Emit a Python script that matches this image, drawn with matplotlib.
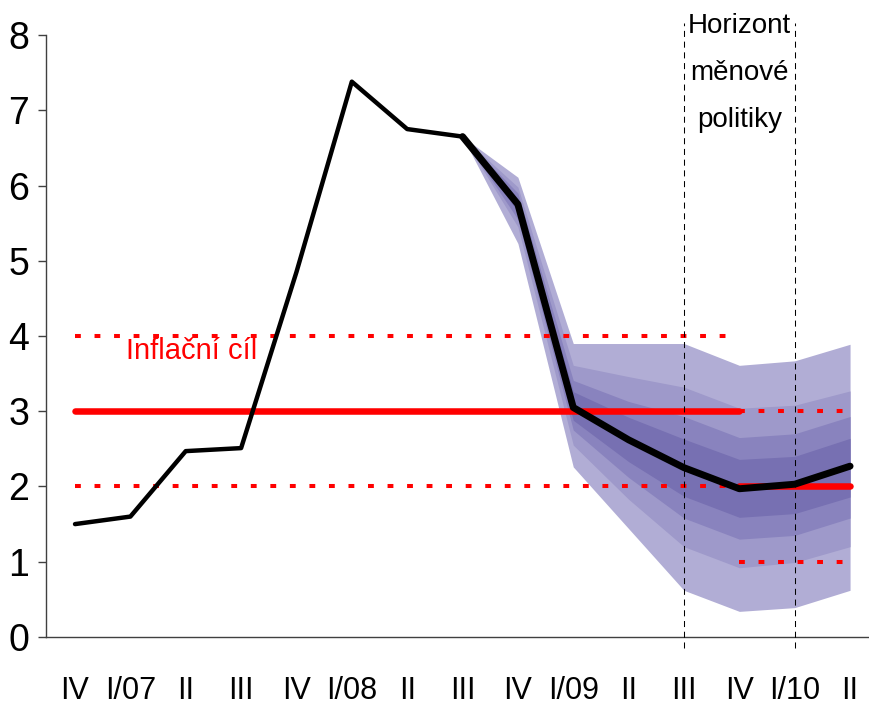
#!/usr/bin/env python3

from matplotlib import pyplot as plt
import numpy as np

# quarters IV/06 .. II/10
quarters = ["IV", "I/07", "II", "III", "IV", "I/08", "II", "III",
            "IV", "I/09", "II", "III", "IV", "I/10", "II"]

# actual inflation, IV/06 .. III/08
actual = [1.50, 1.60, 2.47, 2.51, 4.85, 7.38, 6.75, 6.65]

# forecast, III/08 .. II/10
forecast = [6.65, 5.75, 3.05, 2.62, 2.25, 1.97, 2.03, 2.27]

# fan chart band edges (outer -> inner), III/08 .. II/10
upper = [
    [6.65, 6.11, 3.90, 3.90, 3.90, 3.61, 3.67, 3.89],
    [6.65, 5.98, 3.61, 3.46, 3.32, 3.04, 3.08, 3.27],
    [6.65, 5.90, 3.41, 3.13, 2.93, 2.65, 2.70, 2.93],
    [6.65, 5.83, 3.26, 2.92, 2.63, 2.36, 2.40, 2.64],
]
lower = [
    [6.65, 5.23, 2.26, 1.44, 0.62, 0.34, 0.39, 0.62],
    [6.65, 5.45, 2.55, 1.83, 1.20, 0.92, 0.99, 1.20],
    [6.65, 5.55, 2.75, 2.12, 1.58, 1.30, 1.35, 1.58],
    [6.65, 5.65, 2.88, 2.33, 1.87, 1.59, 1.64, 1.86],
]
band_colors = ["#b1add5", "#9e99ca", "#8983be", "#7770b2"]

# inflation target: 3 % +-1 until IV/09, then 2 % +-1
target_old = 3.0
target_new = 2.0
target_switch = 12

font = "Liberation Sans"


def main():
    fig = plt.figure(figsize=(8.7, 7.09), dpi=100)
    ax = fig.add_axes([0.0525, 0.1016, 0.9475, 0.849])

    x_all = np.arange(len(quarters))
    x_fc = np.arange(len(actual) - 1, len(quarters))

    for i in range(4):
        ax.fill_between(x_fc, lower[i], upper[i], color=band_colors[i],
                        linewidth=0, zorder=1)

    red = "#ff0000"
    dots = (0, (1.45, 3.4))
    x_old = [0, target_switch]
    x_new = [target_switch, len(quarters) - 1]
    ax.plot(x_old, [target_old] * 2, color=red, lw=4.7,
            solid_capstyle="round", zorder=2)
    ax.plot(x_old, [target_old + 1] * 2, color=red, lw=2.9, ls=dots, zorder=2)
    ax.plot(x_old, [target_old - 1] * 2, color=red, lw=2.9, ls=dots, zorder=2)
    ax.plot(x_new, [target_new] * 2, color=red, lw=4.7,
            solid_capstyle="round", zorder=2)
    ax.plot(x_new, [target_new + 1] * 2, color=red, lw=2.9, ls=dots, zorder=2)
    ax.plot(x_new, [target_new - 1] * 2, color=red, lw=2.9, ls=dots, zorder=2)

    ax.plot(x_all[:len(actual)], actual, color="black", lw=3.2,
            solid_capstyle="round", zorder=3)
    ax.plot(x_fc, forecast, color="black", lw=5.0,
            solid_capstyle="round", zorder=3)

    # monetary policy horizon
    for xv in [11, 13]:
        ax.axvline(xv, ymin=-0.019, ymax=1.02, color="black", lw=0.75,
                   ls=(0, (5.8, 4.5)), clip_on=False, zorder=4)

    ax.text(2.11, 3.8, "Inflační cíl", color=red, fontsize=21,
            family=font, ha="center", va="center")
    ax.text(12, 8.29, "Horizont\nměnové\npolitiky", color="black",
            fontsize=20, family=font, ha="center", va="top",
            linespacing=2.05, zorder=5)

    ax.set_xlim(-0.53, 14.36)
    ax.set_ylim(0, 8)
    ax.set_yticks(range(0, 9))
    ax.set_xticks(x_all)
    ax.set_xticklabels(quarters, family=font, fontsize=22)
    for lab in ax.get_yticklabels():
        lab.set_family(font)
        lab.set_fontsize(27)

    ax.tick_params(axis="x", length=0, pad=28)
    ax.tick_params(axis="y", length=6, width=1, color="#404040", pad=6)
    ax.spines["top"].set_visible(False)
    ax.spines["right"].set_visible(False)
    for s in ["left", "bottom"]:
        ax.spines[s].set_color("#404040")
        ax.spines[s].set_linewidth(1)

    fig.savefig("out.png", dpi=100)


if __name__ == "__main__":
    main()
